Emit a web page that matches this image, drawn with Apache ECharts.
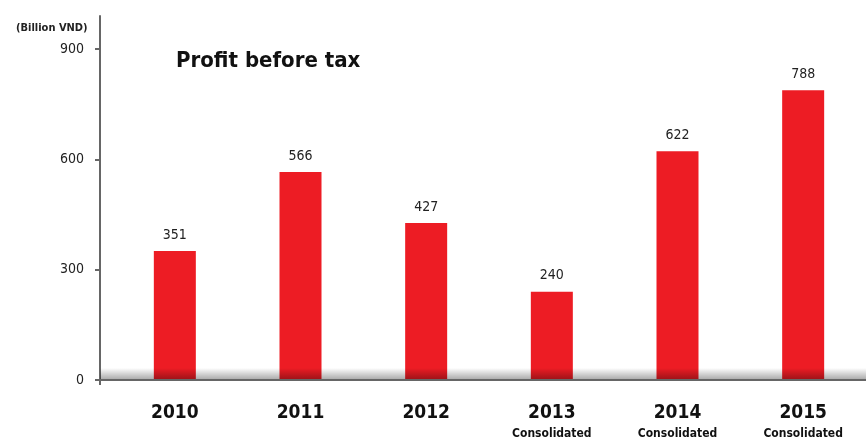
<!DOCTYPE html>
<html>
<head>
<meta charset="utf-8">
<script src="https://cdn.jsdelivr.net/npm/echarts@6/dist/echarts.min.js"></script>
<style>
  html, body { margin: 0; padding: 0; background: #fff; }
  #chart { width: 866px; height: 442px; }
</style>
</head>
<body>
<div id="chart"></div>
<script>
// Profit before tax by year (billion VND)
const years = ['2010', '2011', '2012', '2013', '2014', '2015'];
const notes = ['', '', '', 'Consolidated', 'Consolidated', 'Consolidated'];
const profit = [351, 566, 427, 240, 622, 788];
const yTicks = [0, 300, 600, 900];

const condensed = "'Liberation Sans Narrow', 'DejaVu Sans Condensed', 'Roboto', sans-serif";
const RED = '#ED1C24';

const chart = echarts.init(document.getElementById('chart'), null, { renderer: 'canvas' });

const gridLeft = 112, gridTop = 16, gridBottom = 62;

chart.setOption({
  animation: false,
  backgroundColor: '#ffffff',
  title: [
    {
      text: '(Billion VND)',
      left: 11, top: 18,
      textStyle: { fontFamily: condensed, fontWeight: 'bold', fontSize: 11, color: '#222' }
    },
    {
      text: 'Profit before tax',
      left: 171, top: 45,
      textStyle: { fontFamily: condensed, fontWeight: 'bold', fontSize: 22, color: '#111' }
    }
  ],
  grid: { left: gridLeft, right: -9, top: gridTop, bottom: gridBottom, containLabel: false },
  xAxis: {
    type: 'category',
    data: years,
    axisLine: { show: false },
    axisTick: { show: false },
    axisLabel: {
      margin: 22,
      interval: 0,
      formatter: (v, i) => notes[i] ? '{y|' + v + '}\n{c|' + notes[i] + '}' : '{y|' + v + '}',
      rich: {
        y: { fontFamily: condensed, fontWeight: 'bold', fontSize: 19, color: '#111', lineHeight: 22 },
        c: { fontFamily: condensed, fontWeight: 'bold', fontSize: 12, color: '#111', lineHeight: 20 }
      }
    }
  },
  yAxis: {
    type: 'value',
    min: 0,
    max: 990,
    offset: gridLeft - 100,
    splitLine: { show: false },
    axisLine: { show: true, lineStyle: { color: '#666', width: 2 } },
    axisTick: { show: true, length: 5, customValues: yTicks, lineStyle: { color: '#666', width: 2 } },
    axisLabel: {
      customValues: yTicks,
      margin: 16,
      fontFamily: condensed,
      fontSize: 14,
      color: '#222'
    }
  },
  series: [{
    type: 'bar',
    data: profit,
    barWidth: 42,
    itemStyle: { color: RED },
    label: {
      show: true,
      position: 'top',
      distance: 9,
      fontFamily: condensed,
      fontSize: 14,
      color: '#222'
    }
  }],
  graphic: [
    // soft shading along the baseline
    {
      type: 'rect',
      z: 100,
      shape: { x: 100, y: 368, width: 766, height: 12 },
      style: {
        fill: new echarts.graphic.LinearGradient(0, 0, 0, 1, [
          { offset: 0, color: 'rgba(0,0,0,0)' },
          { offset: 1, color: 'rgba(0,0,0,0.35)' }
        ])
      }
    },
    // baseline
    {
      type: 'line',
      z: 101,
      shape: { x1: 95, y1: 380, x2: 866, y2: 380 },
      style: { stroke: '#666', lineWidth: 2 }
    },
    {
      type: 'line',
      z: 101,
      shape: { x1: 100, y1: 379, x2: 100, y2: 385 },
      style: { stroke: '#666', lineWidth: 2 }
    }
  ]
});
</script>
</body>
</html>
